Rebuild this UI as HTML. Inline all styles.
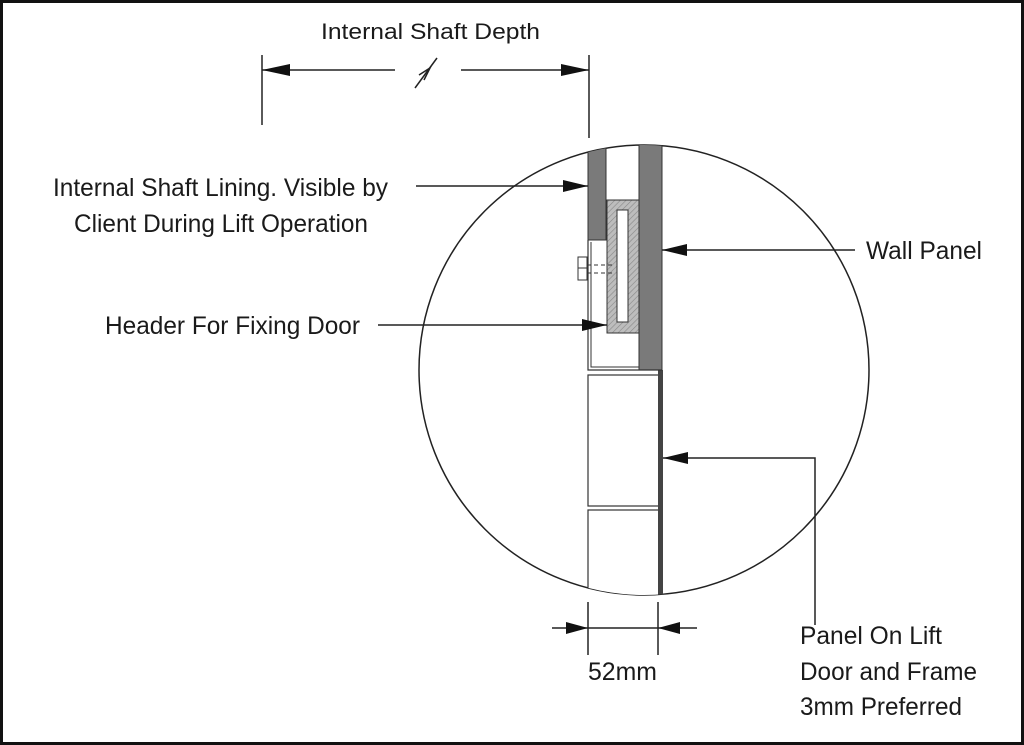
<!DOCTYPE html>
<html><head><meta charset="utf-8"><style>
html,body{margin:0;padding:0;background:#fff}
svg{display:block}
text{font-family:"Liberation Sans Narrow","Liberation Sans",sans-serif;fill:#1a1a1a;font-size:25px}
</style></head><body>
<svg width="1024" height="745" viewBox="0 0 1024 745" xmlns="http://www.w3.org/2000/svg">
<defs>
<pattern id="h" width="4" height="4" patternUnits="userSpaceOnUse" patternTransform="rotate(45)">
<rect width="4" height="4" fill="#bdbdbd"/><line x1="0" y1="0" x2="0" y2="4" stroke="#888" stroke-width="1.2"/></pattern>
<clipPath id="c"><circle cx="644" cy="370" r="225"/></clipPath>
</defs>
<rect x="1.5" y="1.5" width="1021" height="742" fill="#fff" stroke="#111" stroke-width="3"/>
<circle cx="644" cy="370" r="225" fill="none" stroke="#222" stroke-width="1.5"/>
<g clip-path="url(#c)">
<rect x="588" y="140" width="18" height="100" fill="#7a7a7a" stroke="#333" stroke-width="1"/>
<rect x="639" y="140" width="23" height="230" fill="#7a7a7a" stroke="#333" stroke-width="1"/>
<rect x="588" y="375" width="71" height="131" fill="#fff" stroke="#333" stroke-width="1.2"/>
<rect x="588" y="510" width="71" height="100" fill="#fff" stroke="#333" stroke-width="1.2"/>
<rect x="658" y="370" width="5" height="240" fill="#444"/>
</g>
<rect x="607" y="200" width="32" height="133" fill="url(#h)" stroke="#333" stroke-width="1"/>
<rect x="617" y="210" width="11" height="112" fill="#fff" stroke="#333" stroke-width="1"/>
<path d="M588 240 V370 H662" fill="none" stroke="#333" stroke-width="1.2"/>
<path d="M591 242 V367 H639" fill="none" stroke="#333" stroke-width="1"/>
<rect x="578" y="257" width="9" height="23" fill="#fff" stroke="#333" stroke-width="1"/>
<line x1="578" y1="268" x2="587" y2="268" stroke="#333"/>
<path d="M587 265 H615 M587 273 H615" stroke="#333" stroke-dasharray="4 3"/>
<g stroke="#222" stroke-width="1.5" fill="none">
<line x1="262" y1="55" x2="262" y2="125"/>
<line x1="589" y1="55" x2="589" y2="138"/>
<line x1="262" y1="70" x2="395" y2="70"/>
<line x1="461" y1="70" x2="589" y2="70"/>
<line x1="415" y1="88" x2="437" y2="58"/>
<path d="M419 75 L430 68 L424 80"/>
<line x1="588" y1="602" x2="588" y2="655"/>
<line x1="658" y1="602" x2="658" y2="655"/>
<line x1="552" y1="628" x2="697" y2="628"/>
<line x1="416" y1="186" x2="588" y2="186"/>
<line x1="662" y1="250" x2="855" y2="250"/>
<line x1="378" y1="325" x2="607" y2="325"/>
<path d="M663 458 H815 V625"/>
</g>
<g fill="#111">
<polygon points="262,70 290,64 290,76"/>
<polygon points="589,70 561,64 561,76"/>
<polygon points="588,628 566,622 566,634"/>
<polygon points="658,628 680,622 680,634"/>
<polygon points="588,186 563,180 563,192"/>
<polygon points="662,250 687,244 687,256"/>
<polygon points="607,325 582,319 582,331"/>
<polygon points="663,458 688,452 688,464"/>
</g>
<text x="321" y="39" textLength="219" lengthAdjust="spacingAndGlyphs" style="font-size:22px">Internal Shaft Depth</text>
<text x="53" y="196" textLength="335" lengthAdjust="spacingAndGlyphs">Internal Shaft Lining. Visible by</text>
<text x="74" y="232" textLength="294" lengthAdjust="spacingAndGlyphs">Client During Lift Operation</text>
<text x="866" y="259" textLength="116" lengthAdjust="spacingAndGlyphs">Wall Panel</text>
<text x="105" y="334" textLength="255" lengthAdjust="spacingAndGlyphs">Header For Fixing Door</text>
<text x="588" y="680" textLength="69" lengthAdjust="spacingAndGlyphs">52mm</text>
<text x="800" y="644" textLength="142" lengthAdjust="spacingAndGlyphs">Panel On Lift</text>
<text x="800" y="680" textLength="177" lengthAdjust="spacingAndGlyphs">Door and Frame</text>
<text x="800" y="715" textLength="162" lengthAdjust="spacingAndGlyphs">3mm Preferred</text>
</svg>
</body></html>
